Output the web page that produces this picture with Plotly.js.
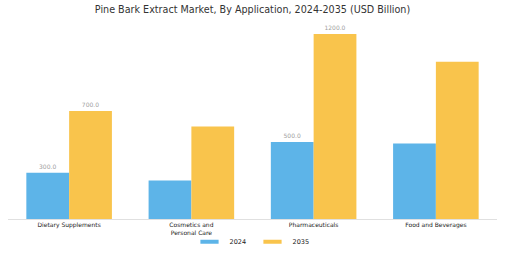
<!DOCTYPE html>
<html>
<head>
<meta charset="utf-8">
<script src="https://cdn.plot.ly/plotly-3.0.1.min.js"></script>
<style>html,body{margin:0;padding:0;background:#fff;}#chart{width:505px;height:253px;}</style>
</head>
<body>
<div id="chart"></div>
<script>
var categories = ["Dietary Supplements", "Cosmetics and<br>Personal Care", "Pharmaceuticals", "Food and Beverages"];
var seriesNames = ["2024", "2035"];
var values2024 = [300, 250, 500, 490];
var values2035 = [700, 600, 1200, 1020];
var labels2024 = ["300.0", "", "500.0", ""];
var labels2035 = ["700.0", "", "1200.0", ""];
var colors = ["#5DB4E8", "#F9C44C"];

function barTrace(i, vals, labels) {
  return {type: "bar", name: seriesNames[i], legendgroup: seriesNames[i], showlegend: false,
    x: categories, y: vals, text: labels,
    textposition: "outside", cliponaxis: false,
    textfont: {size: 6, color: "#a0a0a0"},
    marker: {color: colors[i]}};
}
function legendTrace(i) {
  return {type: "scatter", mode: "markers", name: seriesNames[i], legendgroup: seriesNames[i],
    x: [categories[0]], y: [null], hoverinfo: "skip",
    marker: {symbol: "line-ew", size: 13, color: colors[i], line: {color: colors[i], width: 4}}};
}

var traces = [
  barTrace(0, values2024, labels2024),
  barTrace(1, values2035, labels2035),
  legendTrace(0),
  legendTrace(1)
];

var layout = {
  width: 505, height: 253,
  margin: {l: 8, r: 8, t: 30, b: 34, autoexpand: false},
  paper_bgcolor: "#fff", plot_bgcolor: "#fff",
  font: {family: "DejaVu Sans, sans-serif", color: "#333"},
  title: {text: "Pine Bark Extract Market, By Application, 2024-2035 (USD Billion)",
          font: {size: 9.6, color: "#333"}, x: 0.5, xanchor: "center", y: 0.96, yanchor: "middle"},
  barmode: "group", bargap: 0.3, bargroupgap: 0,
  xaxis: {showline: true, linecolor: "#e0e0e0", linewidth: 1, ticks: "", automargin: false,
          tickfont: {size: 6, color: "#222"}, showgrid: false, fixedrange: true},
  yaxis: {visible: false, range: [0, 1226], showgrid: false, zeroline: false, automargin: false},
  showlegend: true,
  legend: {orientation: "h", x: 0.5, xanchor: "center", y: -0.12, yanchor: "middle",
           bgcolor: "rgba(0,0,0,0)", traceorder: "normal",
           font: {size: 6.5, color: "#222"}, itemwidth: 30, entrywidth: 18}
};

Plotly.newPlot("chart", traces, layout, {displayModeBar: false, staticPlot: true});
</script>
</body>
</html>
